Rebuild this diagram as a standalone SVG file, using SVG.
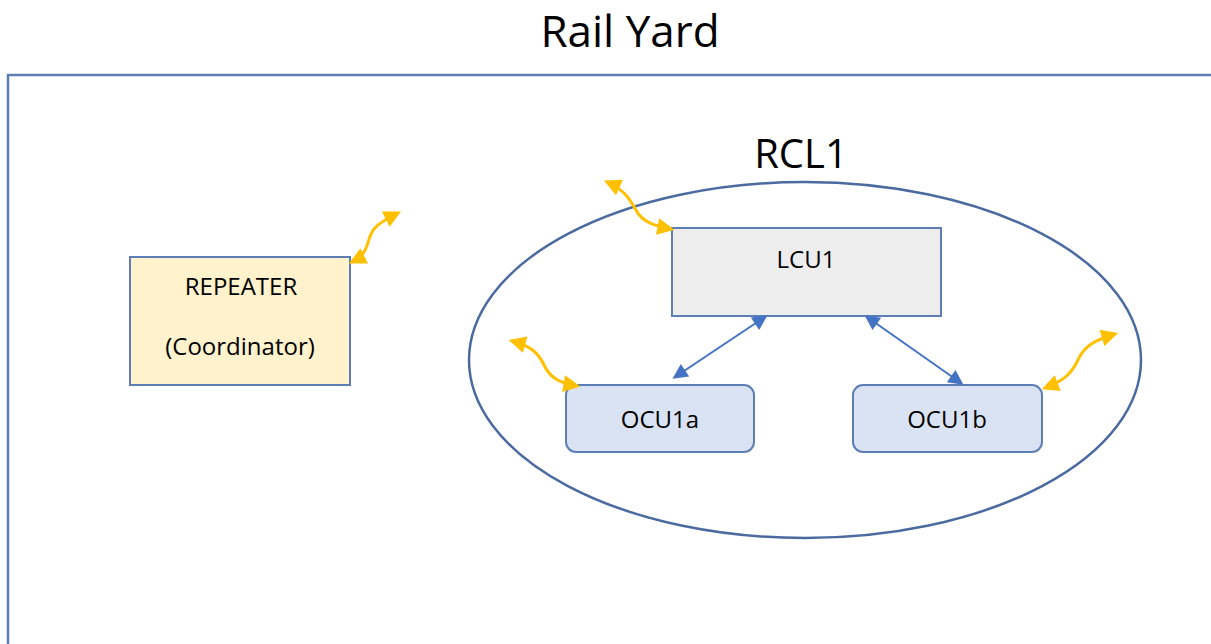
<svg xmlns="http://www.w3.org/2000/svg" width="1211" height="644" viewBox="0 0 1211 644">
<defs>
<style>
.t{font-family:"Open Sans","Liberation Sans",sans-serif;fill:#000}
.box{stroke:#5b7fb5;stroke-width:2}
.wave{fill:none;stroke:#FFC000;stroke-width:3;marker-start:url(#ya);marker-end:url(#ya)}
.link{fill:none;stroke:#4472C4;stroke-width:2;marker-start:url(#ba);marker-end:url(#ba)}
</style>
<marker id="ya" viewBox="0 0 10 10" refX="8" refY="5" markerWidth="18" markerHeight="17" orient="auto-start-reverse" markerUnits="userSpaceOnUse"><path d="M0,0 L10,5 L0,10 z" fill="#FFC000"/></marker>
<marker id="ba" viewBox="0 0 10 10" refX="8" refY="5" markerWidth="8" markerHeight="7.5" orient="auto-start-reverse"><path d="M0,0 L10,5 L0,10 z" fill="#4472C4"/></marker>
</defs>
<rect width="1211" height="644" fill="#fff"/>
<text class="t" x="630" y="47" font-size="44" text-anchor="middle">Rail Yard</text>
<g id="frame"><rect x="8" y="75" width="1220" height="600" fill="none" stroke="#5b7fb5" stroke-width="2.5"/></g>
<g id="rcl1">
<ellipse cx="805" cy="360" rx="336" ry="178" fill="none" stroke="#4a6aa0" stroke-width="2.5"/>
<text class="t" x="801" y="168" font-size="40" text-anchor="middle">RCL1</text>
</g>
<g id="repeater">
<rect class="box" x="130" y="257" width="220" height="128" fill="#FFF2CC"/>
<text class="t" x="241" y="295" font-size="24" text-anchor="middle">REPEATER</text>
<text class="t" x="240" y="355" font-size="24" text-anchor="middle">(Coordinator)</text>
</g>
<g id="lcu1">
<rect class="box" x="672" y="228" width="269" height="88" fill="#EDEDED"/>
<text class="t" x="806" y="268" font-size="24" text-anchor="middle">LCU1</text>
</g>
<g id="ocu1a">
<rect class="box" x="566" y="385" width="188" height="67" rx="10" fill="#DAE3F3"/>
<text class="t" x="660" y="428" font-size="24" text-anchor="middle">OCU1a</text>
</g>
<g id="ocu1b">
<rect class="box" x="853" y="385" width="189" height="67" rx="10" fill="#DAE3F3"/>
<text class="t" x="947" y="428" font-size="24" text-anchor="middle">OCU1b</text>
</g>
<g id="connectors">
<path class="link" d="M765,317 L675,377"/>
<path class="link" d="M867,317 L961,383"/>
<path class="wave" d="M352,262 C372,252 365,238 375,228 C380,222 388,218 398,213"/>
<path class="wave" d="M607,182 C625,190 630,200 636,210 C642,222 655,226 671,229"/>
<path class="wave" d="M512,341 C530,346 538,352 544,365 C550,378 560,383 577,386"/>
<path class="wave" d="M1045,388 C1066,380 1072,372 1078,360 C1084,346 1095,340 1115,334"/>
</g>
</svg>
